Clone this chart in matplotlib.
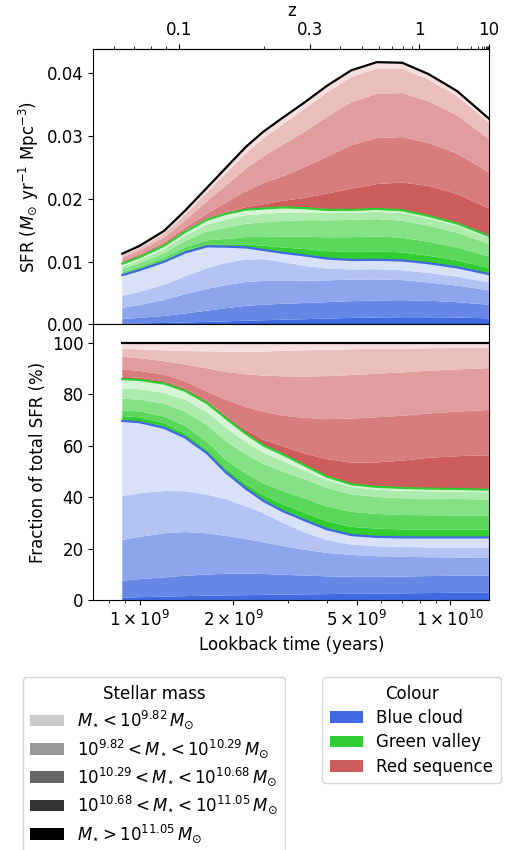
import numpy as np
import matplotlib
matplotlib.use("Agg")
from matplotlib import pyplot as plt
from matplotlib.colors import to_rgb
from matplotlib.patches import Patch
from matplotlib.ticker import NullFormatter

plt.rcParams['font.size'] = 12

# lookback time of each sample (years)
lookback = np.array([0.88, 1.0, 1.2, 1.4, 1.65, 1.9, 2.2, 2.5, 2.9, 3.4,
                     4.0, 4.8, 5.8, 7.0, 8.5, 10.5, 13.3]) * 1e9

# total SFR density (Msun / yr / Mpc^3)
sfr_total = [0.01125, 0.01250, 0.01490, 0.01810, 0.02180, 0.02500, 0.02830,
             0.03070, 0.03300, 0.03540, 0.03800, 0.04050, 0.04180, 0.04170,
             0.03990, 0.03720, 0.03280]

# share of total SFR (%) per mass bin, most massive bin first
blue_frac = [
    [1.0, 1.2, 1.4, 1.6, 1.8, 1.9, 2.0, 2.1, 2.2, 2.3, 2.4, 2.5, 2.6, 2.7, 2.8, 2.9, 2.9],
    [6.6, 7.0, 7.5, 7.9, 8.2, 8.4, 8.4, 8.1, 7.7, 7.3, 6.9, 6.6, 6.5, 6.5, 6.6, 6.6, 6.6],
    [15.8, 16.4, 17.1, 17.0, 16.0, 14.7, 13.4, 12.3, 11.1, 10.0, 9.1, 8.5, 8.0, 7.7, 7.3, 7.1, 7.0],
    [17.1, 16.9, 16.4, 15.8, 15.0, 14.2, 12.7, 11.3, 9.0, 6.7, 5.0, 4.0, 3.9, 3.8, 3.8, 3.8, 3.9],
    [29.1, 27.6, 24.5, 20.9, 16.0, 10.3, 6.8, 4.8, 4.5, 4.7, 4.2, 3.7, 3.6, 3.7, 3.9, 4.0, 4.0],
]
green_frac = [
    [1.9, 1.9, 1.8, 1.6, 1.4, 1.5, 1.8, 2.2, 2.6, 2.9, 3.1, 3.2, 3.2, 3.1, 3.0, 3.0, 3.0],
    [2.2, 2.3, 2.6, 2.9, 3.1, 3.4, 4.0, 4.6, 5.2, 5.6, 5.8, 5.8, 5.7, 5.6, 5.6, 5.5, 5.5],
    [4.5, 4.6, 5.0, 5.6, 6.5, 7.2, 7.5, 7.6, 7.6, 7.4, 7.1, 6.8, 6.6, 6.5, 6.4, 6.4, 6.2],
    [4.0, 4.0, 4.2, 4.6, 5.0, 5.2, 4.8, 4.3, 4.0, 3.4, 3.0, 2.8, 2.8, 2.9, 2.9, 2.9, 2.8],
    [3.6, 3.6, 3.6, 3.4, 3.5, 3.7, 3.2, 2.8, 2.6, 2.0, 1.4, 1.1, 1.1, 1.1, 1.0, 1.0, 1.0],
]
red_frac = [
    [0.9, 0.9, 0.9, 0.9, 0.8, 0.9, 1.4, 2.2, 3.2, 4.6, 6.8, 8.4, 9.5, 10.6, 12.0, 12.7, 13.4],
    [2.9, 2.6, 2.6, 2.8, 3.7, 6.4, 9.0, 10.9, 11.9, 13.9, 15.5, 17.1, 17.5, 17.4, 17.2, 17.3, 17.6],
    [4.9, 5.0, 5.2, 6.5, 9.0, 10.8, 12.7, 14.0, 15.3, 16.0, 16.7, 16.9, 16.9, 16.8, 16.6, 16.4, 16.2],
    [3.1, 3.4, 4.2, 5.2, 6.6, 7.9, 8.7, 9.3, 9.9, 10.2, 10.2, 10.0, 9.7, 9.3, 8.7, 8.3, 7.9],
    [2.4, 2.6, 3.0, 3.3, 3.4, 3.5, 3.6, 3.5, 3.2, 3.0, 2.8, 2.6, 2.4, 2.3, 2.2, 2.1, 2.0],
]

mass_labels = [r'$M_{\star} < 10^{9.82}\,M_{\odot}$',
               r'$10^{9.82} < M_{\star} < 10^{10.29}\,M_{\odot}$',
               r'$10^{10.29} < M_{\star} < 10^{10.68}\,M_{\odot}$',
               r'$10^{10.68} < M_{\star} < 10^{11.05}\,M_{\odot}$',
               r'$M_{\star} > 10^{11.05}\,M_{\odot}$']
colour_names = ['Blue cloud', 'Green valley', 'Red sequence']
colour_base = ['royalblue', 'limegreen', 'indianred']
alphas = [1.0, 0.8, 0.6, 0.4, 0.2]   # most massive -> least massive

z_ticks = [0.1, 0.3, 1, 10]
t_ticks = [1e9, 2e9, 5e9, 1e10]
t_tick_labels = [r'$1\times10^{9}$', r'$2\times10^{9}$', r'$5\times10^{9}$', r'$1\times10^{10}$']

# flat LCDM lookback time, for the redshift axis
H0 = 67.7
Om = 0.31
z_grid = np.logspace(-4, 3, 5000)
integrand = 1.0 / ((1 + z_grid) * np.sqrt(Om * (1 + z_grid)**3 + 1 - Om))
t_grid = np.concatenate([[0.0], np.cumsum(0.5 * (integrand[1:] + integrand[:-1]) * np.diff(z_grid))])
t_grid = (t_grid + z_grid[0] * integrand[0]) * 977.8 / H0 * 1e9


def t_to_z(t):
    return np.interp(t, t_grid, z_grid)


def z_to_t(z):
    return np.interp(z, z_grid, t_grid)


def shade(base, a):
    return tuple(1 - a * (1 - np.array(to_rgb(base))))


fig = plt.figure(figsize=(5.08, 8.5), dpi=100)
ax1 = fig.add_axes([0.184, 0.6185, 0.779, 0.3239])
ax2 = fig.add_axes([0.184, 0.2938, 0.779, 0.3247], sharex=ax1)

groups = [blue_frac, green_frac, red_frac]
frac_layers = [np.array(l) for g in groups for l in g]
layer_colours = [shade(b, a) for b in colour_base for a in alphas]
total = np.array(sfr_total)
sfr_layers = [total * f / 100 for f in frac_layers]

ax1.stackplot(lookback, *sfr_layers, colors=layer_colours, linewidth=0)
ax2.stackplot(lookback, *frac_layers, colors=layer_colours, linewidth=0)

cum_frac = np.zeros(len(lookback))
for g, base in zip(groups, colour_base):
    cum_frac = cum_frac + np.sum(g, axis=0)
    c = 'black' if base == 'indianred' else base
    ax1.plot(lookback, total * cum_frac / 100, color=c, lw=1.6)
    ax2.plot(lookback, cum_frac, color=c, lw=1.6)

ax2.set_xscale('log')
ax2.set_xlim(7.11e8, 1.333e10)
ax2.set_xticks(t_ticks, labels=t_tick_labels)
ax2.xaxis.set_minor_formatter(NullFormatter())
ax2.set_xlabel('Lookback time (years)')
ax2.set_ylim(0, 107.1)
ax2.set_yticks([0, 20, 40, 60, 80, 100])
ax2.set_ylabel('Fraction of total SFR (%)')

ax1.set_ylim(0, 0.0439)
ax1.set_yticks([0, 0.01, 0.02, 0.03, 0.04])
ax1.set_ylabel(r'SFR ($M_{\odot}$ yr$^{-1}$ Mpc$^{-3}$)')
ax1.tick_params(axis='x', which='both', bottom=False, labelbottom=False)

secax = ax1.secondary_xaxis('top', functions=(t_to_z, z_to_t))
secax.set_xticks(z_ticks, labels=['0.1', '0.3', '1', '10'])
secax.xaxis.set_minor_formatter(NullFormatter())
secax.set_xlabel('z')

mass_handles = [Patch(facecolor=str(1 - a)) for a in alphas[::-1]]
fig.legend(mass_handles, mass_labels, title='Stellar mass', loc='upper left',
           bbox_to_anchor=(22.7 / 508, 1 - 677.3 / 850), borderaxespad=0,
           labelspacing=0.36, borderpad=0.45)
colour_handles = [Patch(facecolor=b) for b in colour_base]
fig.legend(colour_handles, colour_names, title='Colour', loc='upper right',
           bbox_to_anchor=(501 / 508, 1 - 677.3 / 850), borderaxespad=0,
           labelspacing=0.38, borderpad=0.45)

fig.savefig('out.png', dpi=100)
